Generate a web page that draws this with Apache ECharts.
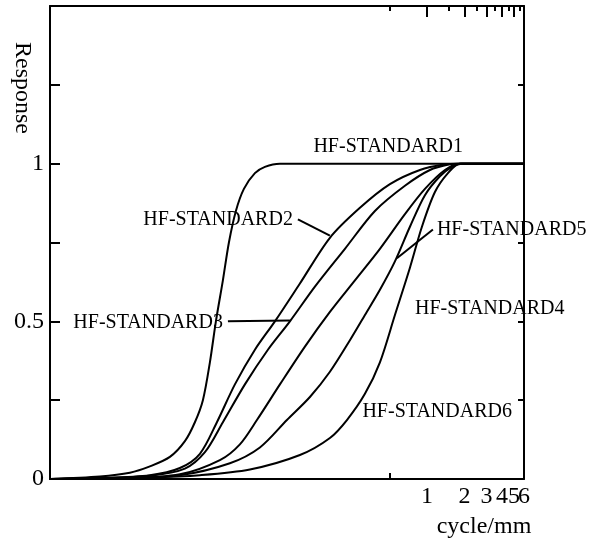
<!DOCTYPE html>
<html><head><meta charset="utf-8">
<script src="https://cdn.jsdelivr.net/npm/echarts@6/dist/echarts.min.js"></script>
<style>html,body{margin:0;padding:0;background:#fff}#c{width:595px;height:541px}</style>
</head><body><div id="c"></div>
<script>
// ---- data (x: cycle/mm, y: response) ----
const seriesNames = ['HF-STANDARD1','HF-STANDARD2','HF-STANDARD3','HF-STANDARD4','HF-STANDARD5','HF-STANDARD6'];
const std1X = [0.000948,0.002386,0.004152,0.006008,0.00869,0.011466,0.013787,0.015983,0.018187,0.02032,0.023119,0.025838,0.02939,0.034075,0.041753,0.050222,0.066254,6];
const std1Y = [0,0.008,0.02,0.04,0.07,0.12,0.18,0.25,0.37,0.5,0.63,0.75,0.85,0.92,0.97,0.99,1,1];
const std2X = [0.000948,0.002386,0.006008,0.010454,0.015125,0.020701,0.028862,0.041753,0.060401,0.095847,0.16676,0.29025,0.50501,0.87871,1.3944,1.7727,6];
const std2Y = [0,0.003,0.012,0.035,0.08,0.18,0.3,0.41,0.5,0.62,0.765,0.86,0.935,0.98,0.998,1,1];
const std3X = [0.000948,0.002386,0.006008,0.011466,0.016589,0.023119,0.034713,0.053078,0.079685,0.12643,0.22,0.38282,0.6662,1.057,1.529,1.8396,6];
const std3Y = [0,0.002,0.01,0.033,0.085,0.18,0.3,0.41,0.5,0.61,0.73,0.85,0.93,0.98,0.998,1,1];
const std4X = [0.000948,0.003452,0.010454,0.026316,0.045796,0.075384,0.11529,0.16676,0.24128,0.31833,0.41985,0.55388,0.73062,0.96383,1.2714,1.5866,1.9088,6];
const std4Y = [0,0.002,0.012,0.05,0.1,0.187,0.26,0.34,0.44,0.52,0.6,0.69,0.8,0.9,0.96,0.99,1,1];
const std5X = [0.000948,0.003452,0.010454,0.021878,0.031652,0.043325,0.066254,0.10512,0.16676,0.26465,0.41985,0.6662,0.96383,1.3944,1.8396,6];
const std5Y = [0,0.002,0.015,0.06,0.11,0.187,0.3,0.42,0.53,0.63,0.73,0.84,0.92,0.98,1,1];
const std6X = [0.000948,0.006008,0.015125,0.038073,0.095847,0.16676,0.22828,0.31833,0.41985,0.55388,0.73062,0.91186,1.1592,1.4737,1.8396,6];
const std6Y = [0,0.005,0.012,0.03,0.076,0.13,0.187,0.27,0.37,0.52,0.67,0.8,0.91,0.97,1,1];

const xLabelValues = [1,2,3,4,5];
const xLastLabel = [6];
const xMajorTicks = [1,2,3,4,5];
const xMinorTicks = [0.5,1.5,2.5,3.5,4.5,5.5];
const xBottomTicks = [0.5];
const yLabelValues = [0,0.5,1];

// annotation anchors (data space)
const labelAnchors = {
  'HF-STANDARD1': {x:1.9443, y:1.054, align:'right'},
  'HF-STANDARD2': {x:0.08419, y:0.823, align:'right'},
  'HF-STANDARD3': {x:0.023119, y:0.497, align:'right'},
  'HF-STANDARD4': {x:0.8015, y:0.541, align:'left'},
  'HF-STANDARD5': {x:1.2027, y:0.791, align:'left'},
  'HF-STANDARD6': {x:4.804, y:0.212, align:'right'}
};
const leaders = [
  [[0.09237,0.823],[0.16676,0.772]],
  [[0.025366,0.5],[0.079685,0.503]],
  [[1.1171,0.791],[0.5745,0.70]]
];

const FONT = '"Liberation Serif", "Times New Roman", serif';
const xMin = 0.00095, xMax = 6.002;

function pairs(xs, ys){ return xs.map((x,i)=>[x, ys[i]]); }
const allX = [std1X,std2X,std3X,std4X,std5X,std6X];
const allY = [std1Y,std2Y,std3Y,std4Y,std5Y,std6Y];

const chart = echarts.init(document.getElementById('c'), null, {renderer:'canvas'});
const baseX = {type:'log', min:xMin, max:xMax, logBase:10, splitLine:{show:false}, minorTick:{show:false}};
const labelStyle = {show:true, color:'#000', fontFamily:FONT, fontSize:24, margin:6,
  showMaxLabel:true, showMinLabel:true, hideOverlap:false, formatter:(v)=>String(Math.round(v))};
const option = {
  animation:false,
  backgroundColor:'#fff',
  grid:{left:50, right:71, top:6, bottom:62, outerBoundsMode:'none'},
  xAxis:[
    Object.assign({}, baseX, {position:'bottom',
      axisLine:{show:true, onZero:false, lineStyle:{color:'#000', width:2}},
      axisTick:{show:true, inside:true, length:6, lineStyle:{color:'#000', width:2}, customValues:xBottomTicks},
      axisLabel:Object.assign({}, labelStyle, {customValues:xLabelValues})}),
    Object.assign({}, baseX, {position:'top',
      axisLine:{show:true, onZero:false, lineStyle:{color:'#000', width:2}},
      axisTick:{show:true, inside:true, length:11, lineStyle:{color:'#000', width:2}, customValues:xMajorTicks},
      axisLabel:{show:false}}),
    Object.assign({}, baseX, {position:'top',
      axisLine:{show:false, onZero:false},
      axisTick:{show:true, inside:true, length:5, lineStyle:{color:'#000', width:2}, customValues:xMinorTicks},
      axisLabel:{show:false}}),
    Object.assign({}, baseX, {position:'bottom',
      axisLine:{show:false, onZero:false},
      axisTick:{show:false},
      axisLabel:Object.assign({}, labelStyle, {customValues:xLastLabel})})
  ],
  yAxis:[
    {type:'value', position:'left', min:0, max:1.5, interval:0.25, splitLine:{show:false},
      axisLine:{show:true, onZero:false, lineStyle:{color:'#000', width:2}},
      axisTick:{show:true, inside:true, length:10, lineStyle:{color:'#000', width:2}},
      axisLabel:{show:true, color:'#000', fontFamily:FONT, fontSize:24, margin:6,
        formatter:(v)=> yLabelValues.some(t=>Math.abs(t-v)<1e-9) ? String(v) : ''}},
    {type:'value', position:'right', min:0, max:1.5, interval:0.25, splitLine:{show:false},
      axisLine:{show:true, onZero:false, lineStyle:{color:'#000', width:2}},
      axisTick:{show:true, inside:true, length:6, lineStyle:{color:'#000', width:2}},
      axisLabel:{show:false}}
  ],
  series: seriesNames.map((n,i)=>({
    name:n, type:'line', xAxisIndex:0, yAxisIndex:0, data:pairs(allX[i], allY[i]),
    showSymbol:false, symbol:'none', smooth:0.3,
    lineStyle:{color:'#000', width:2}, silent:true
  }))
};
chart.setOption(option);

function toPx(p){ return chart.convertToPixel({xAxisIndex:0, yAxisIndex:0}, p); }
const graphics = [];
seriesNames.forEach(n=>{
  const a = labelAnchors[n];
  const p = toPx([a.x, a.y]);
  graphics.push({type:'text', x:p[0], y:p[1], silent:true,
    style:{text:n, fill:'#000', font:'20px '+FONT, textAlign:a.align, textVerticalAlign:'middle'}});
});
leaders.forEach(l=>{
  const p1 = toPx(l[0]), p2 = toPx(l[1]);
  graphics.push({type:'line', silent:true, shape:{x1:p1[0], y1:p1[1], x2:p2[0], y2:p2[1]}, style:{stroke:'#000', lineWidth:2}});
});
graphics.push({type:'text', x:22, y:88, rotation:-Math.PI/2, silent:true,
  style:{text:'Response', fill:'#000', font:'24px '+FONT, textAlign:'center', textVerticalAlign:'middle'}});
graphics.push({type:'text', x:484, y:527, silent:true,
  style:{text:'cycle/mm', fill:'#000', font:'24px '+FONT, textAlign:'center', textVerticalAlign:'middle'}});
chart.setOption({graphic: graphics});
</script>
</body></html>
